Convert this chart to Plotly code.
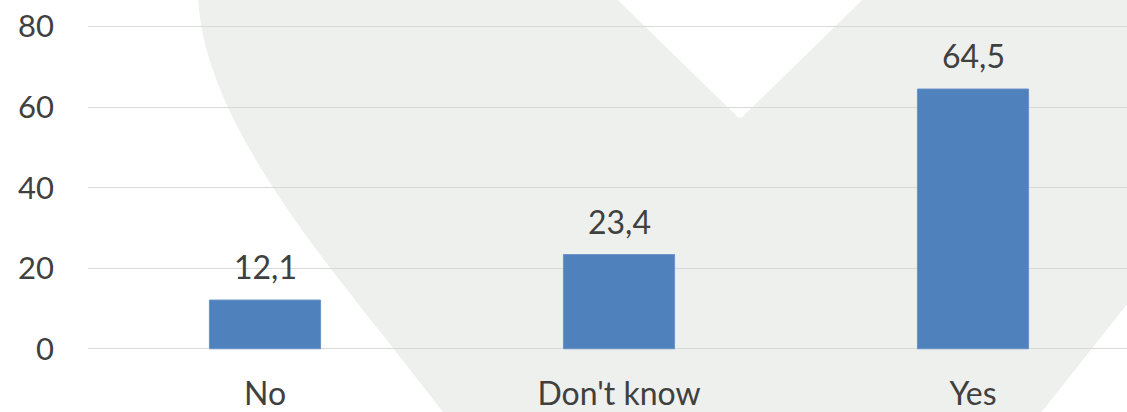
import plotly.graph_objects as go

categories = ["No", "Don't know", "Yes"]
values = [12.1, 23.4, 64.5]
y_ticks = [0, 20, 40, 60, 80]

bar_color = "#4f81bd"
text_color = "#404040"
font_family = "Lato, 'Open Sans', sans-serif"

W, H = 1127, 412
ML, MR, MB = 88, 0, 59
y_lo, y_hi = -0.3, 80.4
px_per_unit = 325 / 80
# top margin so that 0 sits near pixel 352 and 80 near pixel 27
MT = int(round(H - MB - (y_hi - y_lo) * px_per_unit))


def to_paper(px, py):
    # pixel position on the page -> paper coords of the plot area
    x = (px - ML) / (W - ML - MR)
    y = (H - MB - py) / (H - MT - MB)
    return x, y


# light grey heart shaped watermark behind the chart
heart_px = [
    ("M", [(198, -5)]),
    ("C", [(202, 120), (325, 263), (400, 360)]),
    ("L", [(740, 800)]),
    ("L", [(1250, 150)]),
    ("L", [(1250, -5)]),
    ("L", [(867, -5)]),
    ("L", [(742, 118)]),
    ("L", [(738, 118)]),
    ("L", [(613, -5)]),
]
path = ""
for cmd, pts in heart_px:
    path += cmd + " " + " ".join("%.5f,%.5f" % to_paper(*p) for p in pts) + " "
path += "Z"

fig = go.Figure()
fig.add_trace(go.Bar(
    x=categories, y=values, width=0.314,
    marker=dict(color=bar_color, line=dict(color="#6a93c8", width=1)),
    hoverinfo="skip",
))

for c, v in zip(categories, values):
    fig.add_annotation(
        x=c, y=v, text=f"{v:.1f}".replace(".", ","),
        showarrow=False, yanchor="bottom", yshift=12,
        font=dict(size=32, color=text_color, family=font_family),
    )

fig.add_shape(type="path", path=path, xref="paper", yref="paper",
              fillcolor="#eef0ee", line=dict(width=0), layer="below")

fig.update_layout(
    width=W, height=H,
    margin=dict(l=ML, r=MR, t=MT, b=MB),
    paper_bgcolor="white", plot_bgcolor="rgba(0,0,0,0)",
    showlegend=False,
    font=dict(family=font_family, size=32, color=text_color),
    xaxis=dict(range=[-0.5, 2.435], showgrid=False, zeroline=False,
               showline=False, ticks="", ticklabelstandoff=22,
               tickfont=dict(size=32, color=text_color)),
    yaxis=dict(range=[y_lo, y_hi], tickvals=y_ticks, showgrid=True,
               gridcolor="#d9d9d9", gridwidth=1.3, zeroline=False,
               showline=False, ticklabelstandoff=33,
               tickfont=dict(size=31, color=text_color)),
)

page_fix = """
var st = document.createElement('style');
st.textContent = 'html,body{margin:0;padding:0;overflow:hidden;scrollbar-width:none;}'
  + '::-webkit-scrollbar{display:none;width:0;height:0;}';
document.head.appendChild(st);
"""

fig.write_html(
    "out.html",
    config={"displayModeBar": False},
    post_script=page_fix,
)
